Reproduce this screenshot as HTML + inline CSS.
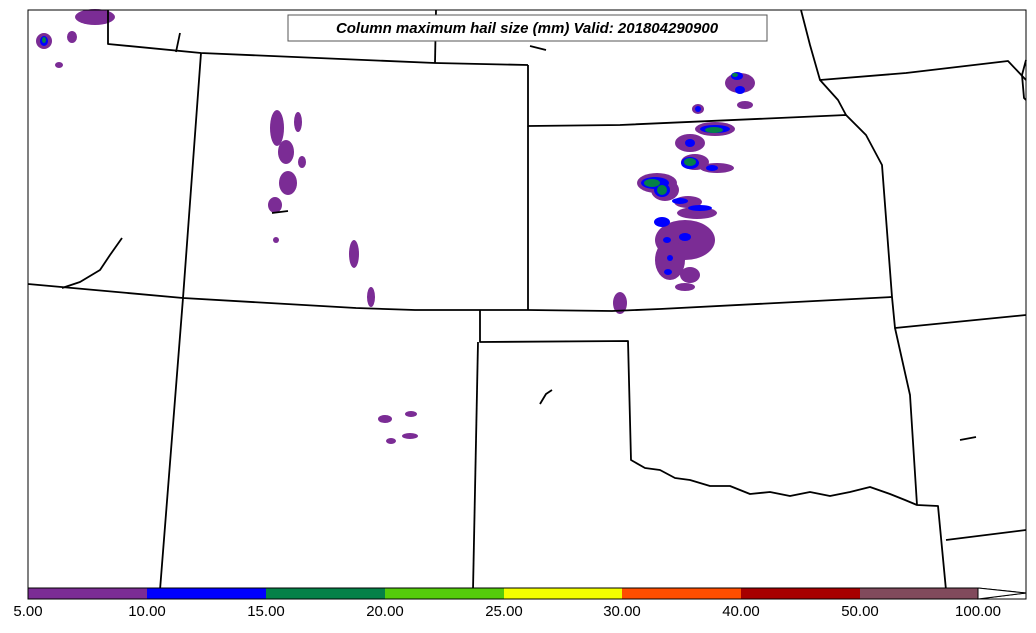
<!DOCTYPE html>
<html><head><meta charset="utf-8"><style>
body{margin:0;background:#fff;width:1036px;height:633px;overflow:hidden}
svg{display:block}
text{font-family:"Liberation Sans",sans-serif}
</style></head><body>
<svg width="1036" height="633" viewBox="0 0 1036 633">
<rect x="0" y="0" width="1036" height="633" fill="#fff"/>
<!-- hail blobs -->
<g fill="#7b2c95">
<ellipse cx="95" cy="17" rx="20" ry="8"/><ellipse cx="44" cy="41" rx="8" ry="8"/><ellipse cx="72" cy="37" rx="5" ry="6"/><ellipse cx="59" cy="65" rx="4" ry="3"/>
<ellipse cx="277" cy="128" rx="7" ry="18"/><ellipse cx="286" cy="152" rx="8" ry="12"/><ellipse cx="288" cy="183" rx="9" ry="12"/><ellipse cx="275" cy="205" rx="7" ry="8"/><ellipse cx="298" cy="122" rx="4" ry="10"/><ellipse cx="302" cy="162" rx="4" ry="6"/><ellipse cx="276" cy="240" rx="3" ry="3"/>
<ellipse cx="354" cy="254" rx="5" ry="14"/><ellipse cx="371" cy="297" rx="4" ry="10"/>
<ellipse cx="385" cy="419" rx="7" ry="4"/><ellipse cx="411" cy="414" rx="6" ry="3"/><ellipse cx="410" cy="436" rx="8" ry="3"/><ellipse cx="391" cy="441" rx="5" ry="3"/>
<ellipse cx="620" cy="303" rx="7" ry="11"/>
<ellipse cx="740" cy="83" rx="15" ry="10"/><ellipse cx="698" cy="109" rx="6" ry="5"/><ellipse cx="715" cy="129" rx="20" ry="7"/><ellipse cx="690" cy="143" rx="15" ry="9"/><ellipse cx="695" cy="162" rx="14" ry="8"/><ellipse cx="717" cy="168" rx="17" ry="5"/><ellipse cx="657" cy="183" rx="20" ry="10"/><ellipse cx="665" cy="190" rx="14" ry="11"/><ellipse cx="688" cy="202" rx="14" ry="6"/><ellipse cx="697" cy="213" rx="20" ry="6"/><ellipse cx="685" cy="240" rx="30" ry="20"/><ellipse cx="670" cy="260" rx="15" ry="20"/><ellipse cx="690" cy="275" rx="10" ry="8"/><ellipse cx="685" cy="287" rx="10" ry="4"/><ellipse cx="745" cy="105" rx="8" ry="4"/>
</g>
<g fill="#0000ff">
<ellipse cx="44" cy="41" rx="4" ry="5"/><ellipse cx="737" cy="76" rx="6" ry="4"/><ellipse cx="740" cy="90" rx="5" ry="4"/><ellipse cx="698" cy="109" rx="3" ry="3"/><ellipse cx="715" cy="129" rx="15" ry="4"/><ellipse cx="690" cy="163" rx="9" ry="6"/><ellipse cx="712" cy="168" rx="6" ry="3"/><ellipse cx="655" cy="183" rx="14" ry="6"/><ellipse cx="662" cy="190" rx="8" ry="7"/><ellipse cx="680" cy="201" rx="8" ry="3"/><ellipse cx="700" cy="208" rx="12" ry="3"/><ellipse cx="662" cy="222" rx="8" ry="5"/><ellipse cx="685" cy="237" rx="6" ry="4"/><ellipse cx="667" cy="240" rx="4" ry="3"/><ellipse cx="670" cy="258" rx="3" ry="3"/><ellipse cx="668" cy="272" rx="4" ry="3"/><ellipse cx="690" cy="143" rx="5" ry="4"/>
</g>
<g fill="#058148">
<ellipse cx="44" cy="40" rx="2" ry="3"/><ellipse cx="735" cy="75" rx="3" ry="2"/><ellipse cx="714" cy="130" rx="9" ry="3"/><ellipse cx="690" cy="162" rx="6" ry="4"/><ellipse cx="652" cy="183" rx="8" ry="4"/><ellipse cx="662" cy="190" rx="5" ry="5"/>
</g>
<!-- borders -->
<g fill="none" stroke="#000" stroke-width="1.8" stroke-linejoin="round">
<polyline points="108,10 108,44 201,53 435,63 528,65"/>
<polyline points="436,10 435,63"/>
<polyline points="201,53 183,298 160,590"/>
<polyline points="28,284 183,298 356,308 415,310 528,310 612,311 660,309 892,297"/>
<polyline points="528,65 528,126 620,125 846,115 866,135 882,165 892,297 895,328 1026,315"/>
<polyline points="528,126 528,310"/>
<polyline points="480,310 480,342 628,341 631,460 645,468 660,470 675,478 690,480 710,486 730,486 750,494 770,492 790,496 810,492 830,496 850,492 870,487 890,494 905,500 917,505 938,506 946,590"/>
<polyline points="478,342 473,590"/>
<polyline points="895,328 910,395 917,505"/>
<polyline points="946,540 1026,530"/>
<polyline points="801,10 810,45 820,80 906,73 1008,61 1026,80"/>
<polyline points="820,80 838,100 846,115"/>
<polyline points="1026,60 1022,75 1024,98 1026,100"/>
<polyline points="122,238 110,255 100,270 80,282 62,288"/>
<polyline points="272,213 288,211"/>
<polyline points="540,404 546,394 552,390"/>
<polyline points="960,440 976,437"/>
<polyline points="530,46 546,50"/>
<polyline points="180,33 176,52"/>
</g>
<rect x="28" y="10" width="998" height="589" fill="none" stroke="#000" stroke-width="1"/>
<!-- title -->
<rect x="288" y="15" width="479" height="26" fill="#fff" stroke="#555" stroke-width="1"/>
<text x="527" y="33" text-anchor="middle" font-size="15" font-weight="bold" font-style="italic">Column maximum hail size (mm) Valid: 201804290900</text>
<!-- colorbar -->
<g stroke="none">
<rect x="28" y="588" width="119" height="11" fill="#7b2c95"/>
<rect x="147" y="588" width="119" height="11" fill="#0000ff"/>
<rect x="266" y="588" width="119" height="11" fill="#058148"/>
<rect x="385" y="588" width="119" height="11" fill="#55cb0b"/>
<rect x="504" y="588" width="118" height="11" fill="#f3ff00"/>
<rect x="622" y="588" width="119" height="11" fill="#ff4e00"/>
<rect x="741" y="588" width="119" height="11" fill="#a70000"/>
<rect x="860" y="588" width="118" height="11" fill="#814a5c"/>
</g>
<polygon points="28,588 978,588 1026,593 978,599 28,599" fill="none" stroke="#000" stroke-width="1"/>
<polygon points="978,588 1026,593 978,599" fill="#fff" stroke="#000" stroke-width="1"/>
<g font-size="15" text-anchor="middle" fill="#000">
<text x="28" y="616">5.00</text><text x="147" y="616">10.00</text><text x="266" y="616">15.00</text><text x="385" y="616">20.00</text><text x="504" y="616">25.00</text><text x="622" y="616">30.00</text><text x="741" y="616">40.00</text><text x="860" y="616">50.00</text><text x="978" y="616">100.00</text>
</g>
</svg>
</body></html>
